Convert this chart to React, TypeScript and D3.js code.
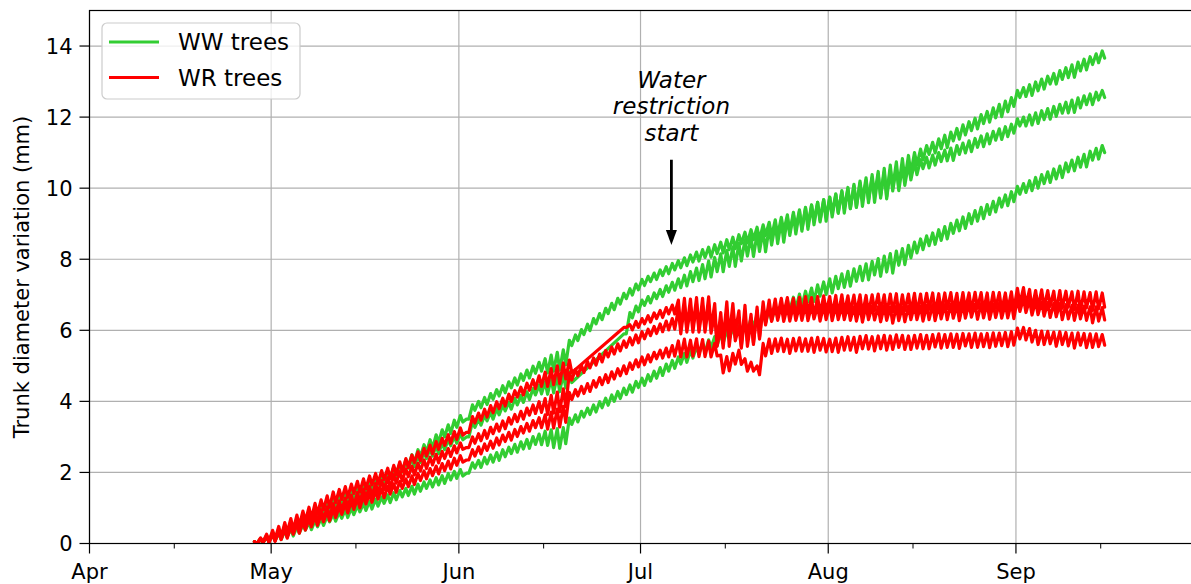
import React from 'react';
import * as d3 from 'd3';

// Day index = days since April 1; first value is day 27 (Apr 28)
const START_DAY = 27;
const MONTH_LABELS = ['Apr', 'May', 'Jun', 'Jul', 'Aug', 'Sep'];
const Y_TICKS = [0, 2, 4, 6, 8, 10, 12, 14];

// Daily maximum (dawn) trunk diameter variation, mm
const g1Max = [
  0.05, 0.12, 0.2, 0.29, 0.38, 0.47, 0.56, 0.65, 0.74, 0.83,
  0.92, 1.01, 1.1, 1.19, 1.28, 1.37, 1.47, 1.56, 1.66, 1.75,
  1.85, 1.95, 2.05, 2.15, 2.25, 2.36, 2.5, 2.64, 2.78, 2.92,
  3.06, 3.2, 3.34, 3.47, 3.6, 3.5, 3.9, 4.0, 4.11, 4.22,
  4.33, 4.44, 4.55, 4.66, 4.77, 4.88, 4.99, 5.1, 5.2, 5.3,
  5.38, 5.45, 5.72, 5.87, 6.02, 6.17, 6.33, 6.47, 6.62, 6.76,
  6.9, 7.04, 7.17, 7.3, 7.43, 7.52, 7.61, 7.7, 7.79, 7.88,
  7.96, 8.04, 8.12, 8.2, 8.27, 8.34, 8.41, 8.48, 8.55, 8.62,
  8.69, 8.76, 8.83, 8.9, 8.97, 9.04, 9.11, 9.18, 9.25, 9.32,
  9.39, 9.46, 9.53, 9.6, 9.68, 9.75, 9.84, 9.93, 10.02, 10.11,
  10.2, 10.29, 10.38, 10.47, 10.56, 10.65, 10.74, 10.83, 10.92, 11.0,
  11.1, 11.2, 11.29, 11.39, 11.49, 11.58, 11.68, 11.78, 11.87, 11.97,
  12.07, 12.16, 12.26, 12.36, 12.45, 12.55, 12.75, 12.83, 12.91, 12.99,
  13.07, 13.15, 13.23, 13.31, 13.39, 13.47, 13.55, 13.63, 13.7, 13.78,
  13.86,
];
// Daily shrinkage (max minus afternoon min), mm
const g1Drop = [
  0.05, 0.1, 0.15, 0.18, 0.2, 0.18, 0.22, 0.2, 0.18, 0.22,
  0.2, 0.22, 0.18, 0.2, 0.24, 0.2, 0.18, 0.22, 0.2, 0.24,
  0.2, 0.22, 0.2, 0.18, 0.22, 0.2, 0.24, 0.2, 0.22, 0.25,
  0.22, 0.2, 0.24, 0.2, 0.18, 0, 0.15, 0.18, 0.2, 0.16,
  0.18, 0.2, 0.17, 0.2, 0.18, 0.22, 0.2, 0.25, 0.4, 0.45,
  0.5, 0.42, 0.15, 0.16, 0.14, 0.18, 0.15, 0.17, 0.15, 0.18,
  0.16, 0.15, 0.18, 0.16, 0.17, 0.15, 0.18, 0.16, 0.2, 0.18,
  0.2, 0.22, 0.2, 0.25, 0.22, 0.28, 0.25, 0.3, 0.28, 0.32,
  0.25, 0.3, 0.28, 0.35, 0.3, 0.4, 0.45, 0.4, 0.5, 0.45,
  0.6, 0.5, 0.45, 0.55, 0.5, 0.45, 0.55, 0.5, 0.6, 0.65,
  0.55, 0.7, 0.6, 0.75, 0.8, 0.65, 0.7, 0.6, 0.5, 0.35,
  0.3, 0.25, 0.3, 0.28, 0.35, 0.25, 0.3, 0.28, 0.25, 0.3,
  0.25, 0.3, 0.28, 0.35, 0.3, 0.25, 0.2, 0.25, 0.3, 0.25,
  0.28, 0.22, 0.3, 0.25, 0.28, 0.35, 0.25, 0.3, 0.22, 0.25,
  0.2,
];

const g2Max = [
  0.05, 0.14, 0.23, 0.32, 0.41, 0.5, 0.59, 0.68, 0.77, 0.86,
  0.95, 1.04, 1.13, 1.22, 1.31, 1.4, 1.49, 1.58, 1.67, 1.76,
  1.85, 1.94, 2.03, 2.12, 2.21, 2.3, 2.39, 2.48, 2.57, 2.66,
  2.75, 2.84, 2.93, 3.02, 3.1, 3.0, 3.42, 3.51, 3.61, 3.7,
  3.8, 3.89, 3.98, 4.08, 4.17, 4.27, 4.36, 4.46, 4.55, 4.64,
  4.72, 4.78, 4.83, null, null, null, null, null, null, null,
  null, 5.9, 6.5, 6.68, 6.85, 6.95, 7.05, 7.15, 7.25, 7.35,
  7.45, 7.55, 7.65, 7.75, 7.85, 7.95, 8.05, 8.15, 8.25, 8.35,
  8.45, 8.54, 8.63, 8.72, 8.81, 8.9, 8.99, 9.08, 9.17, 9.26,
  9.35, 9.44, 9.52, 9.6, 9.67, 9.74, 9.82, 9.9, 9.98, 10.06,
  10.14, 10.22, 10.3, 10.38, 10.45, 10.52, 10.58, 10.63, 10.68, 10.73,
  10.8, 10.87, 10.93, 11.0, 11.07, 11.13, 11.2, 11.27, 11.33, 11.4,
  11.47, 11.53, 11.6, 11.67, 11.73, 11.8, 11.95, 12.0, 12.06, 12.12,
  12.18, 12.24, 12.3, 12.36, 12.42, 12.48, 12.54, 12.6, 12.65, 12.7,
  12.75,
];
const g2Drop = [
  0.05, 0.1, 0.15, 0.2, 0.18, 0.22, 0.2, 0.18, 0.22, 0.2,
  0.22, 0.18, 0.2, 0.24, 0.2, 0.22, 0.18, 0.2, 0.22, 0.2,
  0.18, 0.22, 0.2, 0.24, 0.2, 0.18, 0.22, 0.2, 0.18, 0.2,
  0.22, 0.2, 0.18, 0.2, 0.18, 0, 0.15, 0.18, 0.16, 0.2,
  0.18, 0.16, 0.2, 0.18, 0.2, 0.22, 0.18, 0.25, 0.35, 0.4,
  0.45, 0.4, 0.3, null, null, null, null, null, null, null,
  null, 0, 0.15, 0.16, 0.15, 0.18, 0.16, 0.2, 0.18, 0.22,
  0.25, 0.3, 0.28, 0.35, 0.4, 0.45, 0.4, 0.5, 0.45, 0.55,
  0.5, 0.45, 0.55, 0.5, 0.6, 0.5, 0.55, 0.6, 0.5, 0.55,
  0.5, 0.6, 0.55, 0.5, 0.6, 0.55, 0.5, 0.6, 0.55, 0.6,
  0.65, 0.55, 0.7, 0.6, 0.75, 0.6, 0.65, 0.55, 0.45, 0.35,
  0.25, 0.3, 0.28, 0.25, 0.3, 0.35, 0.25, 0.28, 0.3, 0.25,
  0.3, 0.28, 0.25, 0.3, 0.28, 0.25, 0.2, 0.25, 0.28, 0.3,
  0.25, 0.3, 0.28, 0.25, 0.3, 0.35, 0.28, 0.25, 0.3, 0.22,
  0.2,
];

const g3Max = [
  0.05, 0.11, 0.17, 0.23, 0.29, 0.35, 0.41, 0.47, 0.53, 0.59,
  0.65, 0.71, 0.77, 0.83, 0.89, 0.95, 1.01, 1.07, 1.13, 1.19,
  1.25, 1.31, 1.37, 1.43, 1.49, 1.55, 1.61, 1.67, 1.73, 1.79,
  1.85, 1.91, 1.97, 2.03, 2.08, 1.98, 2.27, 2.34, 2.42, 2.49,
  2.56, 2.64, 2.71, 2.79, 2.86, 2.93, 3.01, 3.08, 3.16, 3.2,
  3.23, 3.26, 3.53, 3.62, 3.72, 3.81, 3.9, 3.99, 4.09, 4.18,
  4.28, 4.37, 4.46, 4.56, 4.65, 4.75, 4.85, 4.95, 5.05, 5.15,
  5.25, 5.35, 5.44, 5.54, 5.63, 5.73, 5.82, 5.92, 6.0, 6.09,
  6.17, 6.26, 6.34, 6.42, 6.51, 6.59, 6.68, 6.76, 6.85, 6.93,
  7.02, 7.1, 7.19, 7.28, 7.36, 7.45, 7.52, 7.59, 7.66, 7.73,
  7.8, 7.87, 7.94, 8.02, 8.09, 8.16, 8.23, 8.3, 8.39, 8.48,
  8.57, 8.66, 8.74, 8.83, 8.92, 9.01, 9.1, 9.19, 9.28, 9.37,
  9.46, 9.54, 9.63, 9.72, 9.81, 9.9, 10.05, 10.13, 10.21, 10.3,
  10.38, 10.46, 10.54, 10.62, 10.71, 10.79, 10.87, 10.95, 11.04, 11.12,
  11.2,
];
const g3Drop = [
  0.05, 0.08, 0.12, 0.15, 0.18, 0.16, 0.2, 0.18, 0.15, 0.2,
  0.18, 0.2, 0.16, 0.2, 0.18, 0.22, 0.2, 0.18, 0.2, 0.22,
  0.2, 0.18, 0.22, 0.2, 0.18, 0.2, 0.22, 0.2, 0.18, 0.2,
  0.2, 0.22, 0.18, 0.2, 0.18, 0, 0.15, 0.2, 0.18, 0.2,
  0.22, 0.2, 0.18, 0.22, 0.2, 0.25, 0.22, 0.3, 0.4, 0.5,
  0.55, 0.45, 0.18, 0.2, 0.16, 0.18, 0.2, 0.17, 0.2, 0.18,
  0.2, 0.18, 0.2, 0.17, 0.2, 0.18, 0.2, 0.22, 0.2, 0.22,
  0.2, 0.25, 0.22, 0.2, 0.25, 0.22, 0.25, 0.28, 0.25, 0.3,
  0.28, 0.3, 0.25, 0.3, 0.28, 0.32, 0.3, 0.35, 0.3, 0.32,
  0.35, 0.3, 0.38, 0.32, 0.35, 0.4, 0.35, 0.38, 0.42, 0.35,
  0.4, 0.45, 0.38, 0.5, 0.45, 0.55, 0.4, 0.45, 0.35, 0.3,
  0.3, 0.28, 0.32, 0.3, 0.35, 0.28, 0.3, 0.32, 0.28, 0.3,
  0.32, 0.28, 0.3, 0.25, 0.3, 0.28, 0.22, 0.25, 0.28, 0.3,
  0.25, 0.3, 0.28, 0.32, 0.25, 0.3, 0.28, 0.35, 0.25, 0.3,
  0.2,
];

const r1Max = [
  0.05, 0.16, 0.26, 0.37, 0.48, 0.59, 0.7, 0.8, 0.91, 1.02,
  1.13, 1.23, 1.34, 1.45, 1.52, 1.6, 1.67, 1.75, 1.82, 1.9,
  1.97, 2.05, 2.12, 2.2, 2.3, 2.39, 2.49, 2.58, 2.68, 2.77,
  2.87, 2.96, 3.06, 3.15, 3.25, 3.13, 3.57, 3.67, 3.78, 3.88,
  3.99, 4.09, 4.2, 4.3, 4.4, 4.51, 4.61, 4.72, 4.82, 4.92,
  5.0, 5.08, 5.16, null, null, null, null, null, null, null,
  null, 6.08, 6.16, 6.25, 6.33, 6.41, 6.49, 6.56, 6.64, 6.71,
  6.85, 6.9, 6.88, 6.92, 6.9, 6.94, 6.75, 6.5, 6.8, 6.75,
  6.55, 6.7, 6.45, 6.65, 6.8, 6.85, 6.88, 6.9, 6.92, 6.9,
  6.93, 6.95, 6.92, 6.95, 6.97, 6.95, 6.98, 7.0, 6.97, 6.99,
  7.0, 6.98, 7.0, 7.02, 7.0, 7.02, 7.03, 7.0, 7.02, 7.04,
  7.02, 7.04, 7.05, 7.03, 7.05, 7.06, 7.04, 7.06, 7.05, 7.07,
  7.06, 7.05, 7.07, 7.06, 7.05, 7.08, 7.18, 7.2, 7.15, 7.12,
  7.14, 7.12, 7.1, 7.12, 7.1, 7.08, 7.1, 7.08, 7.06, 7.08,
  7.05,
];
const r1Drop = [
  0.05, 0.12, 0.2, 0.25, 0.3, 0.28, 0.32, 0.3, 0.28, 0.32,
  0.3, 0.28, 0.32, 0.3, 0.28, 0.3, 0.26, 0.3, 0.28, 0.25,
  0.28, 0.25, 0.3, 0.26, 0.28, 0.25, 0.22, 0.25, 0.22, 0.25,
  0.22, 0.2, 0.24, 0.22, 0.2, 0, 0.18, 0.2, 0.22, 0.2,
  0.2, 0.22, 0.2, 0.18, 0.22, 0.2, 0.25, 0.3, 0.4, 0.45,
  0.5, 0.45, 0.35, null, null, null, null, null, null, null,
  null, 0, 0.15, 0.17, 0.15, 0.18, 0.16, 0.2, 0.18, 0.25,
  0.8, 0.85, 0.8, 0.9, 0.85, 0.9, 1.15, 0.8, 1.0, 0.8,
  1.0, 1.0, 0.85, 0.9, 0.6, 0.55, 0.5, 0.45, 0.5, 0.55,
  0.5, 0.45, 0.55, 0.5, 0.45, 0.5, 0.55, 0.5, 0.45, 0.5,
  0.55, 0.5, 0.45, 0.5, 0.55, 0.5, 0.6, 0.45, 0.5, 0.55,
  0.5, 0.45, 0.55, 0.5, 0.45, 0.5, 0.55, 0.48, 0.5, 0.45,
  0.5, 0.55, 0.45, 0.5, 0.48, 0.5, 0.45, 0.5, 0.55, 0.48,
  0.5, 0.45, 0.55, 0.5, 0.45, 0.5, 0.55, 0.45, 0.5, 0.48,
  0.4,
];

const r2Max = [
  0.05, 0.13, 0.21, 0.3, 0.38, 0.46, 0.54, 0.62, 0.71, 0.79,
  0.87, 0.95, 1.03, 1.12, 1.2, 1.28, 1.36, 1.44, 1.53, 1.61,
  1.69, 1.77, 1.85, 1.94, 2.02, 2.1, 2.18, 2.26, 2.35, 2.43,
  2.51, 2.59, 2.67, 2.75, 2.83, 2.7, 3.0, 3.09, 3.18, 3.27,
  3.36, 3.45, 3.54, 3.63, 3.72, 3.81, 3.9, 3.99, 4.08, 4.17,
  4.26, 4.35, 4.8, 4.9, 5.01, 5.12, 5.22, 5.33, 5.43, 5.53,
  5.62, 5.7, 5.79, 5.87, 5.96, 6.03, 6.11, 6.18, 6.26, 6.33,
  6.6, 6.7, 6.65, 6.75, 6.7, 6.72, 6.45, 6.1, 6.55, 6.4,
  6.1, 6.45, 6.25, 6.55, 6.65, 6.7, 6.68, 6.7, 6.66, 6.7,
  6.68, 6.72, 6.7, 6.68, 6.7, 6.72, 6.7, 6.68, 6.7, 6.66,
  6.68, 6.7, 6.67, 6.66, 6.68, 6.65, 6.67, 6.66, 6.68, 6.7,
  6.68, 6.7, 6.72, 6.7, 6.72, 6.74, 6.72, 6.74, 6.75, 6.73,
  6.75, 6.76, 6.74, 6.76, 6.75, 6.78, 6.88, 6.9, 6.85, 6.82,
  6.8, 6.78, 6.76, 6.75, 6.72, 6.7, 6.7, 6.68, 6.66, 6.66,
  6.64,
];
const r2Drop = [
  0.05, 0.1, 0.18, 0.22, 0.25, 0.28, 0.25, 0.3, 0.26, 0.28,
  0.25, 0.28, 0.3, 0.26, 0.28, 0.25, 0.3, 0.28, 0.25, 0.28,
  0.26, 0.25, 0.28, 0.24, 0.26, 0.22, 0.25, 0.22, 0.24, 0.22,
  0.24, 0.2, 0.22, 0.2, 0.18, 0, 0.18, 0.2, 0.22, 0.18,
  0.2, 0.22, 0.18, 0.2, 0.22, 0.2, 0.24, 0.3, 0.45, 0.5,
  0.55, 0.5, 0.2, 0.18, 0.2, 0.18, 0.2, 0.22, 0.18, 0.2,
  0.2, 0.18, 0.2, 0.22, 0.2, 0.18, 0.2, 0.22, 0.25, 0.3,
  0.7, 0.75, 0.7, 0.8, 0.75, 0.8, 0.9, 0.6, 1.0, 0.7,
  0.6, 0.9, 0.6, 0.75, 0.5, 0.45, 0.4, 0.45, 0.4, 0.42,
  0.4, 0.45, 0.38, 0.42, 0.4, 0.45, 0.4, 0.38, 0.42, 0.4,
  0.45, 0.4, 0.38, 0.42, 0.4, 0.45, 0.4, 0.42, 0.38, 0.4,
  0.42, 0.4, 0.45, 0.38, 0.42, 0.4, 0.45, 0.4, 0.38, 0.42,
  0.4, 0.45, 0.38, 0.42, 0.4, 0.45, 0.35, 0.4, 0.42, 0.38,
  0.4, 0.42, 0.38, 0.45, 0.4, 0.42, 0.38, 0.4, 0.45, 0.4,
  0.35,
];

const r3Max = [
  0.05, 0.12, 0.19, 0.26, 0.33, 0.4, 0.48, 0.55, 0.62, 0.69,
  0.76, 0.83, 0.9, 0.97, 1.04, 1.11, 1.19, 1.26, 1.33, 1.4,
  1.47, 1.54, 1.61, 1.68, 1.75, 1.82, 1.9, 1.97, 2.04, 2.11,
  2.18, 2.25, 2.32, 2.4, 2.47, 2.35, 2.64, 2.72, 2.8, 2.88,
  2.97, 3.05, 3.13, 3.21, 3.29, 3.38, 3.46, 3.54, 3.62, 3.7,
  3.78, 3.86, 4.25, 4.33, 4.42, 4.5, 4.58, 4.67, 4.75, 4.83,
  4.92, 5.0, 5.08, 5.17, 5.25, 5.31, 5.38, 5.44, 5.5, 5.57,
  5.7, 5.75, 5.72, 5.76, 5.74, 5.7, 5.63, 5.3, 5.26, 5.35,
  5.44, 5.2, 5.1, 5.0, 5.63, 5.75, 5.76, 5.78, 5.75, 5.77,
  5.79, 5.76, 5.78, 5.8, 5.77, 5.75, 5.78, 5.8, 5.82, 5.8,
  5.83, 5.85, 5.82, 5.84, 5.86, 5.84, 5.87, 5.86, 5.84, 5.86,
  5.88, 5.86, 5.88, 5.9, 5.88, 5.9, 5.89, 5.91, 5.9, 5.92,
  5.9, 5.91, 5.93, 5.92, 5.94, 5.96, 6.06, 6.08, 6.05, 6.0,
  5.98, 5.97, 5.95, 5.96, 5.94, 5.92, 5.93, 5.91, 5.9, 5.9,
  5.88,
];
const r3Drop = [
  0.05, 0.1, 0.15, 0.2, 0.22, 0.25, 0.22, 0.26, 0.24, 0.22,
  0.25, 0.22, 0.26, 0.24, 0.22, 0.25, 0.23, 0.26, 0.22, 0.24,
  0.22, 0.25, 0.22, 0.24, 0.2, 0.22, 0.24, 0.2, 0.22, 0.2,
  0.22, 0.2, 0.22, 0.2, 0.18, 0, 0.18, 0.2, 0.18, 0.2,
  0.2, 0.18, 0.22, 0.2, 0.18, 0.22, 0.2, 0.28, 0.4, 0.45,
  0.5, 0.45, 0.2, 0.18, 0.2, 0.22, 0.18, 0.2, 0.22, 0.2,
  0.2, 0.22, 0.18, 0.2, 0.22, 0.2, 0.18, 0.22, 0.25, 0.3,
  0.45, 0.5, 0.45, 0.5, 0.48, 0.45, 0.35, 0.5, 0.4, 0.3,
  0.4, 0.35, 0.25, 0.25, 0.35, 0.4, 0.35, 0.38, 0.4, 0.35,
  0.38, 0.35, 0.4, 0.36, 0.38, 0.35, 0.4, 0.36, 0.38, 0.42,
  0.35, 0.38, 0.4, 0.36, 0.42, 0.38, 0.35, 0.4, 0.38, 0.36,
  0.4, 0.38, 0.35, 0.4, 0.36, 0.38, 0.4, 0.35, 0.38, 0.4,
  0.36, 0.4, 0.38, 0.35, 0.4, 0.38, 0.3, 0.35, 0.38, 0.4,
  0.38, 0.35, 0.4, 0.36, 0.38, 0.42, 0.35, 0.4, 0.38, 0.36,
  0.3,
];

const GREEN = '#32cd32';
const RED = '#ff0000';

const SERIES = [
  { max: g1Max, drop: g1Drop, color: GREEN },
  { max: g2Max, drop: g2Drop, color: GREEN },
  { max: g3Max, drop: g3Drop, color: GREEN },
  { max: r1Max, drop: r1Drop, color: RED },
  { max: r2Max, drop: r2Drop, color: RED },
  { max: r3Max, drop: r3Drop, color: RED },
];

const LEGEND = [
  { label: 'WW trees', color: GREEN },
  { label: 'WR trees', color: RED },
];

// annotation: arrow in data coordinates (day index, mm)
const ARROW_DAY = 96.1;
const ARROW_TIP = 8.4;
const ARROW_TAIL = 10.8;
const ANNOT_LINES = ['Water', 'restriction', 'start'];

const DAY_MS = 86400000;
const BASE = Date.UTC(2021, 3, 1);
const toDate = (day: number) => new Date(BASE + day * DAY_MS);

export default function App() {
  const W = 1191;
  const H = 584;
  const left = 89.5;
  const right = 1197.6;
  const top = 10.5;
  const bottom = 543.5;
  const font = 'DejaVu Sans, Verdana, sans-serif';

  const x = d3
    .scaleUtc()
    .domain([new Date(Date.UTC(2021, 3, 1)), new Date(Date.UTC(2021, 9, 1))])
    .range([left, right]);
  const y = d3.scaleLinear().domain([0, 15]).range([bottom, top]);

  const majorTicks = d3.utcMonth.range(new Date(Date.UTC(2021, 3, 1)), new Date(Date.UTC(2021, 8, 2)));
  const minorTicks = majorTicks.map((m) => new Date(Date.UTC(m.getUTCFullYear(), m.getUTCMonth(), 15)));

  const line = d3
    .line<{ t: number; v: number }>()
    .x((p) => x(toDate(p.t)))
    .y((p) => y(p.v))
    .curve(d3.curveLinear);

  const paths = SERIES.map((s) => {
    const pts: { t: number; v: number }[] = [];
    s.max.forEach((mx, i) => {
      if (mx == null) return;
      const d = START_DAY + i;
      const dr = (s.drop[i] as number) ?? 0;
      pts.push({ t: d + 0.25, v: mx });
      pts.push({ t: d + 0.65, v: mx - dr });
    });
    return { d: line(pts) as string, color: s.color };
  });

  const ax = x(toDate(ARROW_DAY));
  const tipY = y(ARROW_TIP);
  const tailY = y(ARROW_TAIL);

  return (
    <div style={{ position: 'absolute', left: 0, top: 0 }}>
      <svg width={W} height={H} style={{ display: 'block', background: '#fff' }} fontFamily={font}>
        <defs>
          <clipPath id="plotClip">
            <rect x={left} y={top} width={right - left} height={bottom - top} />
          </clipPath>
        </defs>
        <rect x={0} y={0} width={W} height={H} fill="#fff" />
        {/* grid */}
        {majorTicks.map((m, i) => (
          <line key={'gx' + i} x1={x(m)} x2={x(m)} y1={top} y2={bottom} stroke="#b0b0b0" strokeWidth={1.2} />
        ))}
        {Y_TICKS.map((v) => (
          <line key={'gy' + v} x1={left} x2={right} y1={y(v)} y2={y(v)} stroke="#b0b0b0" strokeWidth={1.2} />
        ))}
        {/* data */}
        <g clipPath="url(#plotClip)">
          {paths.map((p, i) => (
            <path key={i} d={p.d} fill="none" stroke={p.color} strokeWidth={3.2} strokeLinejoin="round" strokeLinecap="round" />
          ))}
        </g>
        {/* spines */}
        <rect x={left} y={top} width={right - left} height={bottom - top} fill="none" stroke="#000" strokeWidth={1.2} />
        {/* x ticks */}
        {majorTicks.map((m, i) => (
          <g key={'xt' + i}>
            <line x1={x(m)} x2={x(m)} y1={bottom} y2={bottom + 10} stroke="#000" strokeWidth={1.2} />
            <text x={x(m)} y={bottom + 35} textAnchor="middle" fontSize={21} fill="#000">
              {MONTH_LABELS[i]}
            </text>
          </g>
        ))}
        {minorTicks.map((m, i) => (
          <line key={'mt' + i} x1={x(m)} x2={x(m)} y1={bottom} y2={bottom + 5} stroke="#000" strokeWidth={1} />
        ))}
        {/* y ticks */}
        {Y_TICKS.map((v) => (
          <g key={'yt' + v}>
            <line x1={left - 10} x2={left} y1={y(v)} y2={y(v)} stroke="#000" strokeWidth={1.2} />
            <text x={left - 17} y={y(v)} dy="0.36em" textAnchor="end" fontSize={21} fill="#000">
              {v}
            </text>
          </g>
        ))}
        <text
          transform={`translate(29, ${(top + bottom) / 2}) rotate(-90)`}
          textAnchor="middle"
          fontSize={21}
          fill="#000"
        >
          Trunk diameter variation (mm)
        </text>
        {/* annotation */}
        <line x1={ax} x2={ax} y1={tailY} y2={tipY - 14} stroke="#000" strokeWidth={2.8} />
        <path d={`M${ax - 5.5},${tipY - 15} L${ax + 5.5},${tipY - 15} L${ax},${tipY} Z`} fill="#000" />
        {ANNOT_LINES.map((t, i) => (
          <text
            key={t}
            x={ax}
            y={tailY - 72 + i * 26.5}
            textAnchor="middle"
            fontSize={23}
            fontStyle="italic"
            fill="#000"
          >
            {t}
          </text>
        ))}
        {/* legend */}
        <rect x={102} y={23} width={198} height={76} rx={5} fill="#fff" fillOpacity={0.8} stroke="#cccccc" strokeWidth={1.2} />
        {LEGEND.map((l, i) => (
          <g key={l.label}>
            <line x1={109} x2={159} y1={42 + i * 35.5} y2={42 + i * 35.5} stroke={l.color} strokeWidth={3} />
            <text x={178} y={42 + i * 35.5} dy="0.36em" fontSize={23} fill="#000">
              {l.label}
            </text>
          </g>
        ))}
      </svg>
    </div>
  );
}
